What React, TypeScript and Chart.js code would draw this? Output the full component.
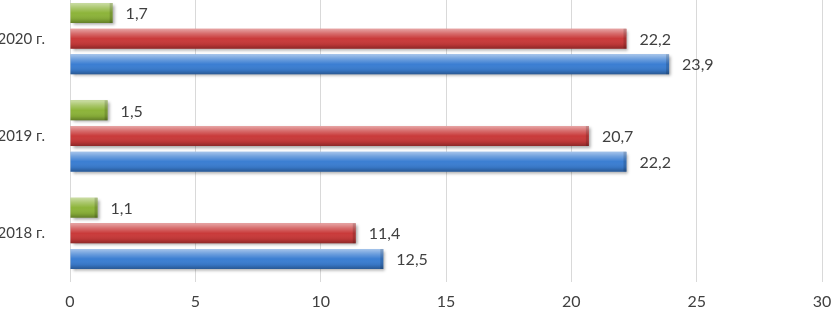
import React, { useEffect, useRef } from "react";
import { Chart, registerables } from "chart.js";

Chart.register(...registerables);

const categories = ["2020 г.", "2019 г.", "2018 г."];
const seriesGreen = [1.7, 1.5, 1.1];
const seriesRed = [22.2, 20.7, 11.4];
const seriesBlue = [23.9, 22.2, 12.5];
const xTicks = [0, 5, 10, 15, 20, 25, 30];

const FONT = "Lato, 'Open Sans', sans-serif";

const fmt = (v: number) => v.toFixed(1).replace(".", ",");

const barStylePlugin = {
  id: "barStyle",
  beforeDatasetsDraw(chart: any) {
    const ctx = chart.ctx;
    ctx.save();
    ctx.shadowColor = "rgba(0,0,0,0.35)";
    ctx.shadowBlur = 3;
    ctx.shadowOffsetX = 2;
    ctx.shadowOffsetY = 2;
  },
  afterDatasetsDraw(chart: any) {
    const ctx = chart.ctx;
    ctx.restore();
    ctx.save();
    chart.data.datasets.forEach((ds: any, di: number) => {
      const meta = chart.getDatasetMeta(di);
      meta.data.forEach((bar: any, i: number) => {
        const left = Math.min(bar.base, bar.x);
        const right = Math.max(bar.base, bar.x);
        const top = bar.y - bar.height / 2;
        const h = bar.height;
        const g = ctx.createLinearGradient(0, top, 0, top + h);
        g.addColorStop(0, "rgba(255,255,255,0.55)");
        g.addColorStop(0.25, "rgba(255,255,255,0.25)");
        g.addColorStop(0.5, "rgba(255,255,255,0.0)");
        g.addColorStop(0.8, "rgba(0,0,0,0.08)");
        g.addColorStop(1, "rgba(0,0,0,0.3)");
        ctx.fillStyle = g;
        ctx.fillRect(left, top, right - left, h);
        ctx.fillStyle = "rgba(0,0,0,0.15)";
        ctx.fillRect(right - 3, top, 3, h);
        ctx.fillStyle = "#404040";
        ctx.font = "16px " + FONT;
        ctx.textAlign = "left";
        ctx.textBaseline = "middle";
        ctx.fillText(fmt(ds.data[i]), right + 13, bar.y + 1);
      });
    });
    ctx.restore();
  },
};

export default function App() {
  const ref = useRef<HTMLCanvasElement | null>(null);
  useEffect(() => {
    if (!ref.current) return;
    const chart = new Chart(ref.current, {
      type: "bar",
      data: {
        labels: categories,
        datasets: [
          { label: "g", data: seriesGreen, backgroundColor: "#8DB43A" },
          { label: "r", data: seriesRed, backgroundColor: "#C93A3A" },
          { label: "b", data: seriesBlue, backgroundColor: "#3B7ED2" },
        ],
      },
      options: {
        indexAxis: "y",
        animation: false,
        responsive: false,
        maintainAspectRatio: false,
        layout: { padding: { left: 0, right: 11, top: 0, bottom: 0 } },
        datasets: {
          bar: { categoryPercentage: 0.79, barPercentage: 0.78 },
        },
        plugins: {
          legend: { display: false },
          tooltip: { enabled: false },
        },
        scales: {
          x: {
            min: 0,
            max: 30,
            afterBuildTicks: (s: any) => {
              s.ticks = xTicks.map((v) => ({ value: v }));
            },
            afterFit: (s: any) => {
              s.height = 32;
              s.paddingLeft = 0;
              s.paddingRight = 0;
            },
            ticks: {
              padding: 10,
              color: "#404040",
              font: { family: FONT, size: 16 },
            },
            grid: { color: "#d9d9d9", drawTicks: false, tickLength: 0 },
            border: { display: false },
          },
          y: {
            afterFit: (s: any) => {
              s.width = 70;
              s.paddingTop = 0;
              s.paddingBottom = 0;
            },
            ticks: {
              padding: 17,
              color: "#404040",
              font: { family: FONT, size: 15 },
            },
            grid: { display: false },
            border: { display: false },
          },
        },
      },
      plugins: [barStylePlugin],
    });
    return () => chart.destroy();
  }, []);
  return (
    <div
      style={{
        position: "fixed",
        left: 0,
        top: 0,
        width: 833,
        height: 311,
        overflow: "hidden",
        background: "#fff",
      }}
    >
      <div style={{ position: "absolute", left: 0, top: -10, width: 833, height: 324 }}>
        <canvas ref={ref} width={833} height={324} style={{ width: 833, height: 324, display: "block" }} />
      </div>
    </div>
  );
}
